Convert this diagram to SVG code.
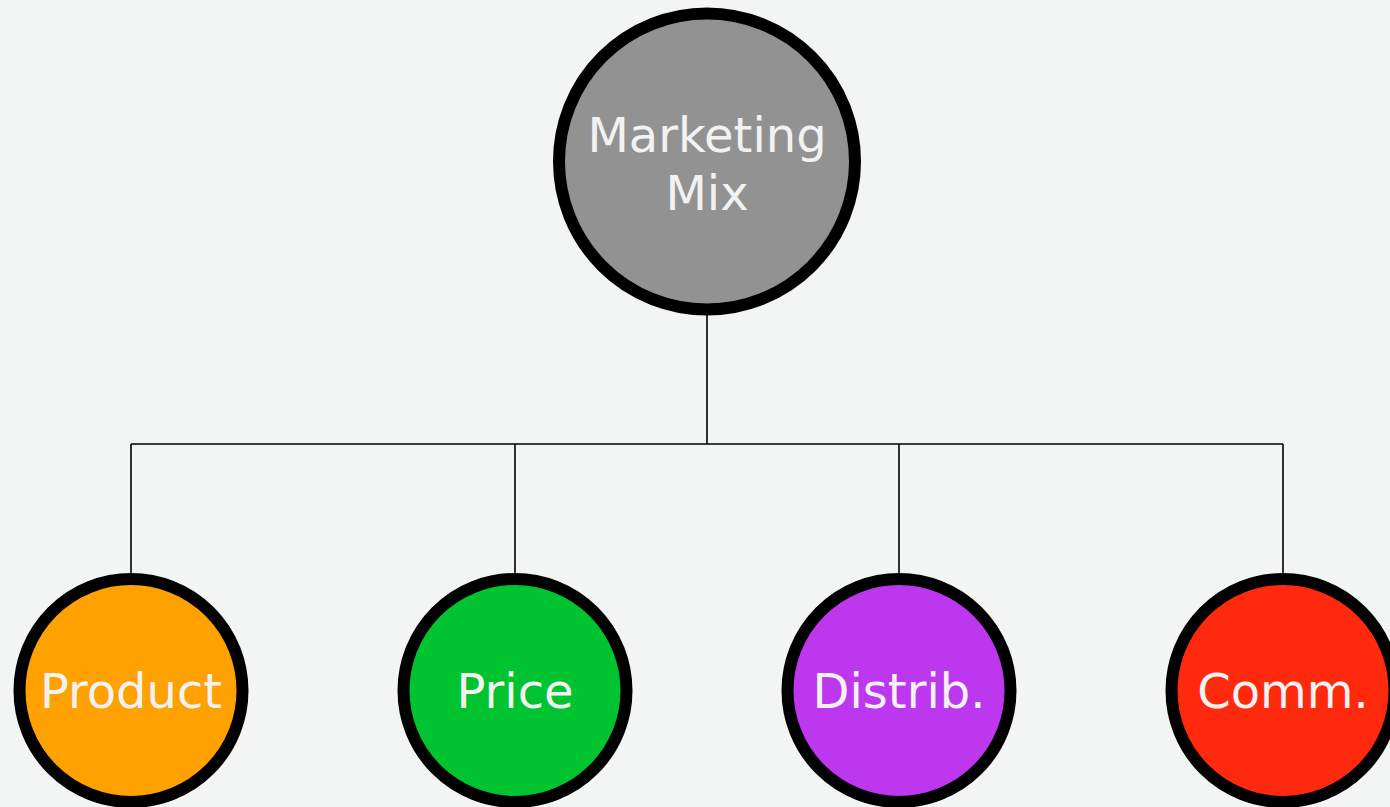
<svg xmlns="http://www.w3.org/2000/svg" width="1390" height="807" viewBox="0 0 1390 807">
<style>
.node{stroke:#000;stroke-width:12}
.lbl{font-family:"DejaVu Sans",Verdana,sans-serif;font-size:48px;fill:#f2f2f2;text-anchor:middle}
.conn{stroke:#000;stroke-width:1.6;fill:none}
</style>
<rect width="1390" height="807" fill="#f3f4f4"/>
<g id="connectors">
<path class="conn" d="M707 315V444M131 444H1283M131 444V573M515 444V573M899 444V573M1283 444V573"/>
</g>
<g id="marketing-mix">
<circle class="node" cx="707" cy="161.5" r="148" fill="#929292"/>
<text class="lbl" x="707" y="152">Marketing</text>
<text class="lbl" x="707" y="210">Mix</text>
</g>
<g id="product">
<circle class="node" cx="131" cy="690.5" r="111.5" fill="#ffa100"/>
<text class="lbl" x="131" y="708">Product</text>
</g>
<g id="price">
<circle class="node" cx="515" cy="690.5" r="111.5" fill="#00c42f"/>
<text class="lbl" x="515" y="708">Price</text>
</g>
<g id="distrib">
<circle class="node" cx="899" cy="690.5" r="111.5" fill="#bd37ef"/>
<text class="lbl" x="899" y="708">Distrib.</text>
</g>
<g id="comm">
<circle class="node" cx="1283" cy="690.5" r="111.5" fill="#ff2a0e"/>
<text class="lbl" x="1283" y="708">Comm.</text>
</g>
</svg>
